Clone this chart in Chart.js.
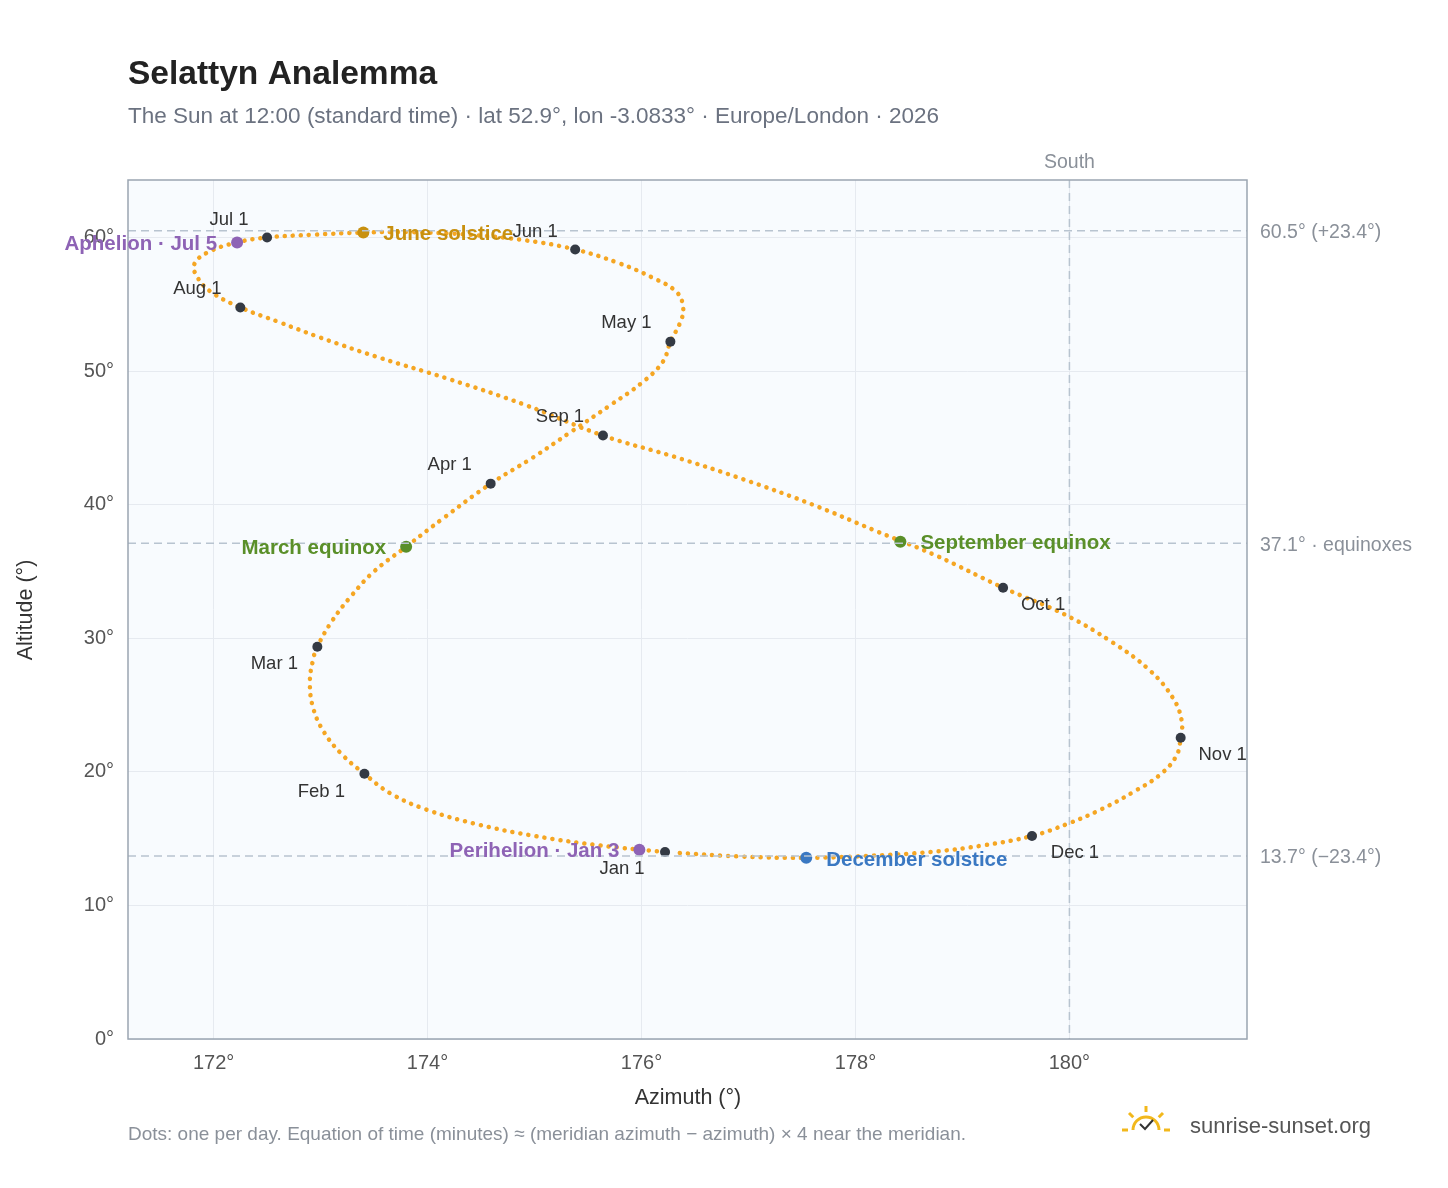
<!DOCTYPE html>
<html><head><meta charset="utf-8">
<script src="https://cdn.jsdelivr.net/npm/chart.js@4/dist/chart.umd.min.js"></script>
<style>html,body{margin:0;background:#fff}#w{width:1448px;height:1188px;position:relative}</style>
</head><body><div id="w"><canvas id="c" width="1448" height="1188"></canvas></div>
<script>
// Positions (azimuth °, altitude °), roughly every 5 days
const pathAz=[176.22,175.6,175.0,174.45,173.98,173.65,173.41,173.2,173.03,172.93,172.9,172.93,172.97,173.1,173.28,173.5,173.8,174.15,174.59,174.98,175.35,175.7,176.0,176.2,176.27,176.36,176.39,176.33,176.1,175.78,175.38,174.9,174.4,173.85,173.4,172.92,172.5,172.22,171.95,171.82,171.85,171.98,172.25,172.6,173.0,173.55,174.2,174.9,175.64,176.3,176.95,177.6,178.2,178.75,179.38,179.95,180.4,180.75,180.97,181.05,181.04,181.0,180.85,180.6,180.3,179.98,179.65,179.2,178.7,178.1,177.54,176.95,176.3];
const pathAlt=[14.0,14.5,15.2,16.1,17.2,18.4,19.85,21.3,23.0,24.8,26.7,28.4,29.36,31.2,33.1,35.0,36.85,39.0,41.57,43.5,45.5,47.4,49.1,50.7,52.2,53.6,54.7,55.9,57.0,58.1,59.1,59.8,60.2,60.4,60.37,60.2,60.0,59.63,58.9,58.0,57.0,55.9,54.76,53.7,52.5,51.0,49.4,47.5,45.17,43.6,41.9,40.0,38.0,36.2,33.78,31.8,29.7,27.6,25.5,23.8,22.55,21.2,19.8,18.5,17.2,16.1,15.2,14.5,14.0,13.7,13.56,13.65,13.95];
const monthLabels=["Jan 1","Feb 1","Mar 1","Apr 1","May 1","Jun 1","Jul 1","Aug 1","Sep 1","Oct 1","Nov 1","Dec 1"];
const monthAz=[176.22,173.41,172.97,174.59,176.27,175.38,172.50,172.25,175.64,179.38,181.04,179.65];
const monthAlt=[14.0,19.85,29.36,41.57,52.2,59.1,60.0,54.76,45.17,33.78,22.55,15.2];
const eventLabels=["Perihelion · Jan 3","March equinox","June solstice","Aphelion · Jul 5","September equinox","December solstice"];
const eventAz=[175.98,173.8,173.4,172.22,178.42,177.54];
const eventAlt=[14.16,36.85,60.37,59.63,37.23,13.56];
const eventColors=["#8e63b5","#5a8f29","#c8900f","#8e63b5","#5a8f29","#3a78c2"];
const refAlt=[60.5,37.1,13.7];
const refLabels=["60.5° (+23.4°)","37.1° · equinoxes","13.7° (−23.4°)"];
const xTicks=[172,174,176,178,180];
const yTicks=[0,10,20,30,40,50,60];

const F='"Liberation Sans",Arial';
const monthOff=[[-43,17],[-43,18],[-43,17],[-41,-19],[-44,-19],[-40,-18],[-38,-18],[-43,-19],[-43,-19],[40,17],[42,17],[43,17]];
const eventOff=[[-20,2,'right'],[-20,2,'right'],[20,2,'left'],[-20,2,'right'],[20,2,'left'],[20,2,'left']];

const deco={id:'deco',
 beforeDraw(ch){const c=ch.ctx,a=ch.chartArea;c.save();c.fillStyle='#f8fbfe';c.fillRect(a.left,a.top,a.right-a.left,a.bottom-a.top);c.restore();},
 afterDatasetsDraw(ch){const c=ch.ctx,a=ch.chartArea,x=ch.scales.x,y=ch.scales.y;c.save();
  c.setLineDash([8,5]);c.strokeStyle='#b8c4d0';c.lineWidth=1.5;
  refAlt.forEach((v,i)=>{const py=y.getPixelForValue(v);c.beginPath();c.moveTo(a.left,py);c.lineTo(a.right,py);c.stroke();
   c.fillStyle='#8a9099';c.font='19.5px '+F;c.textAlign='left';c.textBaseline='middle';c.fillText(refLabels[i],a.right+13,py+2);});
  const sx=x.getPixelForValue(180);c.beginPath();c.moveTo(sx,a.top);c.lineTo(sx,a.bottom);c.stroke();c.setLineDash([]);
  c.fillStyle='#8a9099';c.textAlign='center';c.textBaseline='alphabetic';c.fillText('South',sx,168);
  c.strokeStyle='#9aa5b1';c.lineWidth=1.5;c.strokeRect(a.left,a.top,a.right-a.left,a.bottom-a.top);
  c.font='18.5px '+F;c.fillStyle='#333';c.textBaseline='middle';c.textAlign='center';
  monthLabels.forEach((l,i)=>{const px=x.getPixelForValue(monthAz[i]),py=y.getPixelForValue(monthAlt[i]);const o=monthOff[i];c.fillText(l,px+o[0],py+o[1]);});
  c.font='bold 20.5px '+F;
  eventLabels.forEach((l,i)=>{const px=x.getPixelForValue(eventAz[i]),py=y.getPixelForValue(eventAlt[i]);const o=eventOff[i];c.textAlign=o[2];c.fillStyle=eventColors[i];c.fillText(l,px+o[0],py+o[1]);});
  c.textAlign='left';c.textBaseline='alphabetic';c.fillStyle='#222';c.font='bold 33.5px '+F;c.fillText('Selattyn Analemma',128,84);
  c.fillStyle='#6b7280';c.font='22.5px '+F;c.fillText('The Sun at 12:00 (standard time) · lat 52.9°, lon -3.0833° · Europe/London · 2026',128,123);
  c.fillStyle='#333';c.font='21.5px '+F;c.textAlign='center';c.fillText('Azimuth (°)',688,1104);
  c.save();c.translate(32,610);c.rotate(-Math.PI/2);c.fillText('Altitude (°)',0,0);c.restore();
  c.textAlign='left';c.fillStyle='#8a9099';c.font='19px '+F;c.fillText('Dots: one per day. Equation of time (minutes) ≈ (meridian azimuth − azimuth) × 4 near the meridian.',128,1140);
  c.fillStyle='#555';c.font='22px '+F;c.fillText('sunrise-sunset.org',1190,1133);
  c.strokeStyle='#f2b81c';c.lineWidth=3;c.beginPath();c.arc(1146,1130,13,Math.PI,2*Math.PI);c.stroke();
  for(let k=0;k<5;k++){const t=Math.PI+k*Math.PI/4;c.beginPath();c.moveTo(1146+18*Math.cos(t),1130+18*Math.sin(t));c.lineTo(1146+24*Math.cos(t),1130+24*Math.sin(t));c.stroke();}
  c.strokeStyle='#333';c.lineWidth=2;c.beginPath();c.moveTo(1140,1124);c.lineTo(1145,1129);c.lineTo(1153,1120);c.stroke();
  c.restore();}};

new Chart(document.getElementById('c'),{type:'scatter',
 data:{datasets:[
  {data:eventAz.map((v,i)=>({x:v,y:eventAlt[i]})),pointRadius:6,pointBackgroundColor:eventColors,pointBorderWidth:0},
  {data:monthAz.map((v,i)=>({x:v,y:monthAlt[i]})),pointRadius:5,pointBackgroundColor:'#343a44',pointBorderWidth:0},
  {data:pathAz.map((v,i)=>({x:v,y:pathAlt[i]})),showLine:true,tension:0.4,borderColor:'#f5a623',borderWidth:4.5,borderDash:[0.1,8],borderCapStyle:'round',pointRadius:0}
 ]},
 options:{responsive:false,animation:false,layout:{padding:{top:180,right:201,left:0,bottom:0}},
  plugins:{legend:{display:false},tooltip:{enabled:false}},
  scales:{
   x:{type:'linear',min:171.2,max:181.66,afterFit(s){s.height=149;},afterBuildTicks(s){s.ticks=xTicks.map(v=>({value:v}));},
      grid:{color:'#e6eaf0',drawTicks:false},border:{display:false},ticks:{padding:12,color:'#555',font:{size:20,family:F},callback:v=>v+'°'}},
   y:{min:0,max:64.3,afterFit(s){s.width=128;},afterBuildTicks(s){s.ticks=yTicks.map(v=>({value:v}));},ticks:{padding:14,color:'#555',font:{size:20,family:F},callback:v=>v+'°'},
      grid:{color:'#e6eaf0',drawTicks:false},border:{display:false}}
  }},
 plugins:[deco]});
</script></body></html>
